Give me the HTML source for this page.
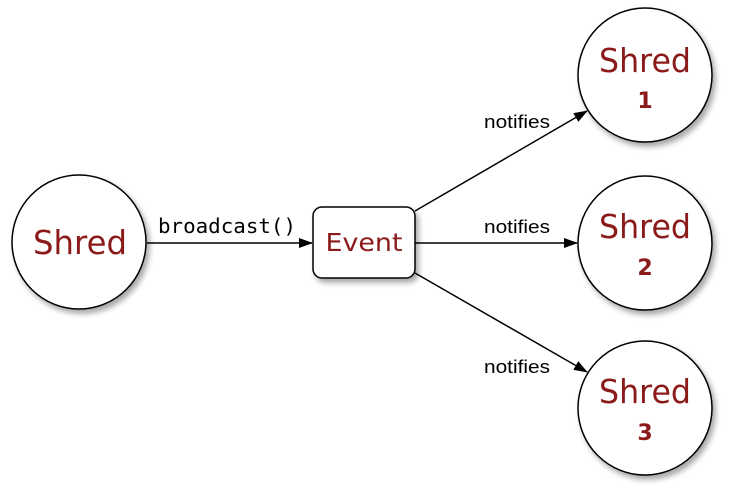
<!DOCTYPE html>
<html><head><meta charset="utf-8"><style>
html,body{margin:0;padding:0;background:#fff;width:750px;height:496px;overflow:hidden}
</style></head><body>
<svg width="750" height="496" viewBox="0 0 750 496" xmlns="http://www.w3.org/2000/svg">
<defs>
<filter id="sh" x="-30%" y="-30%" width="160%" height="160%">
<feGaussianBlur in="SourceAlpha" stdDeviation="3"/>
<feOffset dx="3" dy="4"/>
<feComponentTransfer><feFuncA type="linear" slope="0.35"/></feComponentTransfer>
<feMerge><feMergeNode/><feMergeNode in="SourceGraphic"/></feMerge>
</filter>
<marker id="ar" markerWidth="14" markerHeight="10" refX="13" refY="5" orient="auto" markerUnits="userSpaceOnUse">
<path d="M0,0 L14,5 L0,10 z" fill="#000"/>
</marker>
</defs>
<g stroke="#000" stroke-width="1.5" fill="none">
<line x1="147" y1="243" x2="312" y2="243" marker-end="url(#ar)"/>
<line x1="415" y1="243" x2="577" y2="243" marker-end="url(#ar)"/>
<line x1="415" y1="211" x2="587" y2="111" marker-end="url(#ar)"/>
<line x1="415" y1="273" x2="587" y2="372" marker-end="url(#ar)"/>
</g>
<g fill="#fff" stroke="#000" stroke-width="1.5" filter="url(#sh)">
<circle cx="79" cy="242" r="67"/>
<circle cx="645" cy="75" r="67"/>
<circle cx="645" cy="243" r="67"/>
<circle cx="645" cy="408" r="67"/>
<rect x="313" y="207" width="102" height="71" rx="9"/>
</g>
<g font-family="'DejaVu Sans', 'Liberation Sans', sans-serif" fill="#8b1a1a" text-anchor="middle">
<text x="80" y="254" font-size="33" textLength="94" lengthAdjust="spacingAndGlyphs">Shred</text>
<text x="364" y="251" font-size="25" textLength="77" lengthAdjust="spacingAndGlyphs">Event</text>
<text x="645" y="72" font-size="33" textLength="92" lengthAdjust="spacingAndGlyphs">Shred</text>
<text x="645" y="108" font-size="22" font-weight="bold">1</text>
<text x="645" y="238" font-size="33" textLength="92" lengthAdjust="spacingAndGlyphs">Shred</text>
<text x="645" y="275" font-size="22" font-weight="bold">2</text>
<text x="645" y="403" font-size="33" textLength="92" lengthAdjust="spacingAndGlyphs">Shred</text>
<text x="645" y="440" font-size="22" font-weight="bold">3</text>
</g>
<g font-family="'Liberation Sans', sans-serif" font-size="18.5" fill="#000" text-anchor="middle">
<text x="517" y="128" textLength="66" lengthAdjust="spacingAndGlyphs">notifies</text>
<text x="517" y="233" textLength="66" lengthAdjust="spacingAndGlyphs">notifies</text>
<text x="517" y="373" textLength="66" lengthAdjust="spacingAndGlyphs">notifies</text>
</g>
<text x="227" y="233" font-family="'DejaVu Sans Mono', 'Liberation Mono', monospace" font-size="20" fill="#000" text-anchor="middle" textLength="138" lengthAdjust="spacingAndGlyphs">broadcast()</text>
</svg>
</body></html>
